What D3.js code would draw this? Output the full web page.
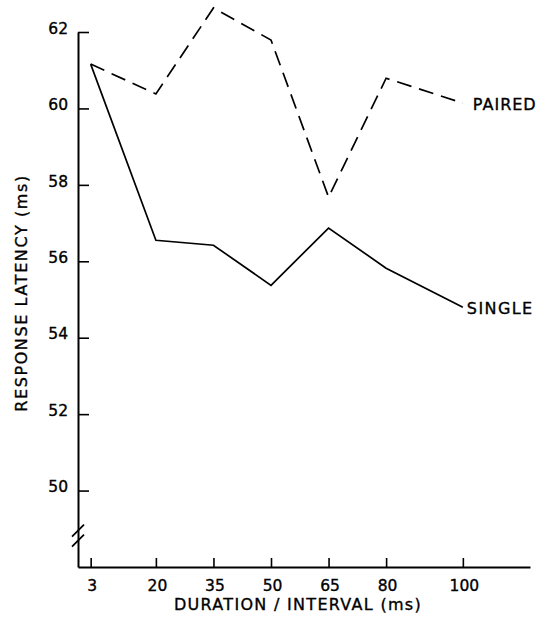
<!DOCTYPE html>
<html>
<head>
<meta charset="utf-8">
<script src="https://cdn.jsdelivr.net/npm/d3@7"></script>
<style>
  html, body { margin: 0; padding: 0; background: #fff; }
  svg { display: block; }
  text { font-family: "DejaVu Sans", sans-serif; fill: #000; stroke: #000; stroke-width: 0.35px; }
</style>
</head>
<body>
<svg id="chart" width="539" height="624"></svg>
<script>
// ---- data ----
const durations = [3, 20, 35, 50, 65, 80, 100];
const pairedLatency = [61.16, 60.38, 62.63, 61.79, 57.68, 60.79, 60.14];
const singleLatency = [61.16, 56.55, 56.42, 55.37, 56.87, 55.82, 54.80];
const yTickValues = [50, 52, 54, 56, 58, 60, 62];
const xTickValues = [3, 20, 35, 50, 65, 80, 100];
const seriesNames = ["PAIRED", "SINGLE"];
const xTitle = "DURATION / INTERVAL (ms)";
const yTitle = "RESPONSE LATENCY (ms)";

// ---- layout ----
const svg = d3.select("#chart");
const x = d3.scaleLinear().domain([-0.3, 117.5]).range([78, 530]);
const y = d3.scaleLinear().domain([48, 62]).range([567, 32]);

// x axis
const gx = svg.append("g").attr("transform", `translate(0,${y(48)})`)
  .call(d3.axisBottom(x).tickValues(xTickValues).tickSizeInner(-9).tickSizeOuter(0).tickPadding(13));
gx.select(".domain").attr("stroke-width", 2);
gx.selectAll(".tick line").attr("stroke-width", 1.6);
gx.selectAll(".tick text").style("font-size", "15.5px").style("font-family", "DejaVu Sans").attr("dx", "1");

// y axis
const gy = svg.append("g").attr("transform", `translate(${x(-0.3)},0)`)
  .call(d3.axisLeft(y).tickValues(yTickValues).tickSizeInner(-11).tickSizeOuter(0).tickPadding(10));
gy.select(".domain").attr("stroke-width", 2);
gy.selectAll(".tick line").attr("stroke-width", 1.6);
gy.selectAll(".tick text").style("font-size", "15.5px").style("font-family", "DejaVu Sans").attr("dy", "0.08em");

// axis break marks
const bx = x(-0.3);
const by = y(48.95);
[0, 10].forEach(off => {
  svg.append("line")
    .attr("x1", bx - 6).attr("y1", by + off + 6)
    .attr("x2", bx + 6).attr("y2", by + off - 6)
    .attr("stroke", "#000").attr("stroke-width", 1.8);
});

// lines
const line = d3.line().x((d, i) => x(durations[i])).y(d => y(d));
svg.append("path").datum(pairedLatency)
  .attr("d", line).attr("fill", "none").attr("stroke", "#000")
  .attr("stroke-width", 1.7).attr("stroke-dasharray", "15,8");
svg.append("path").datum(singleLatency)
  .attr("d", line).attr("fill", "none").attr("stroke", "#000")
  .attr("stroke-width", 1.7);

// series labels
svg.append("text")
  .attr("x", x(durations[6]) + 10).attr("y", y(pairedLatency[6]) + 7)
  .style("font-size", "16px").style("letter-spacing", "1px")
  .text(seriesNames[0]);
svg.append("text")
  .attr("x", x(durations[6]) + 4).attr("y", y(singleLatency[6]) + 7)
  .style("font-size", "16px").style("letter-spacing", "1.4px")
  .text(seriesNames[1]);

// axis titles
svg.append("text")
  .attr("x", 298).attr("y", 610).attr("text-anchor", "middle")
  .style("font-size", "16px").style("letter-spacing", "1.3px")
  .text(xTitle);
svg.append("text")
  .attr("transform", "translate(27,293) rotate(-90)").attr("text-anchor", "middle")
  .style("font-size", "16px").style("letter-spacing", "1.6px")
  .text(yTitle);
</script>
</body>
</html>
